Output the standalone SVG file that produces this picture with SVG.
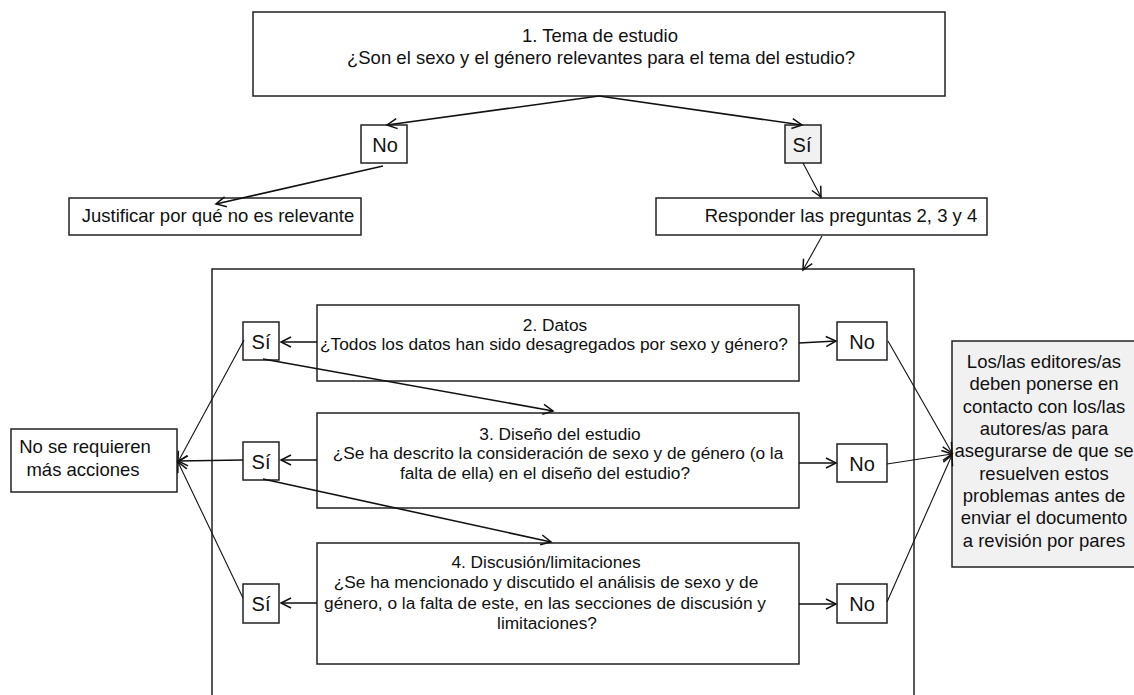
<svg xmlns="http://www.w3.org/2000/svg" width="1134" height="695" viewBox="0 0 1134 695">
<defs>
<marker id="ah" markerUnits="userSpaceOnUse" markerWidth="14" markerHeight="14" refX="11" refY="6" orient="auto" viewBox="0 0 14 12">
<path d="M1,1 L11,6 L1,11" fill="none" stroke="#111" stroke-width="1.5"/>
</marker>
</defs>
<style>
.b{fill:#fff;stroke:#222;stroke-width:1.5}
.g{fill:#f1f1f1;stroke:#222;stroke-width:1.5}
.t{font-family:"Liberation Sans",Arial,sans-serif;font-size:18.5px;fill:#111;text-anchor:middle}
.s{font-family:"Liberation Sans",Arial,sans-serif;font-size:17.3px;fill:#111;text-anchor:middle}
.l{font-family:"Liberation Sans",Arial,sans-serif;font-size:20px;fill:#111;text-anchor:middle}
.c{fill:none;stroke:#111;stroke-width:1.6;marker-end:url(#ah)}
.n{fill:none;stroke:#111;stroke-width:1.1;marker-end:url(#ah)}
</style>
<rect width="1134" height="695" fill="#fff"/>
<g id="container"><rect class="b" x="212" y="269" width="702" height="500" fill="none"/></g>
<g id="n1"><rect class="b" x="253" y="12" width="692" height="84"/>
<text class="t" x="600" y="42" font-size="18">1. Tema de estudio</text>
<text class="t" x="601" y="64">¿Son el sexo y el género relevantes para el tema del estudio?</text></g>
<g id="no1"><rect class="b" x="361" y="125" width="46" height="38"/><text class="l" x="385" y="152">No</text></g>
<g id="si1"><rect class="g" x="785" y="125" width="36" height="38"/><text class="l" x="802" y="152">Sí</text></g>
<g id="just"><rect class="b" x="69" y="198" width="292" height="37"/><text class="t" x="218" y="222">Justificar por qué no es relevante</text></g>
<g id="resp"><rect class="b" x="656" y="198" width="331" height="37"/><text class="t" x="841" y="222">Responder las preguntas 2, 3 y 4</text></g>
<g id="n2"><rect class="b" x="317" y="305" width="482" height="76"/>
<text class="s" x="555" y="331">2. Datos</text>
<text class="s" x="554" y="350">¿Todos los datos han sido desagregados por sexo y género?</text></g>
<g id="n3"><rect class="b" x="317" y="413" width="482" height="95"/>
<text class="s" x="560" y="440">3. Diseño del estudio</text>
<text class="s" x="558" y="459">¿Se ha descrito la consideración de sexo y de género (o la</text>
<text class="s" x="545" y="479">falta de ella) en el diseño del estudio?</text></g>
<g id="n4"><rect class="b" x="317" y="543" width="482" height="121"/>
<text class="s" x="546" y="568">4. Discusión/limitaciones</text>
<text class="s" x="546" y="588">¿Se ha mencionado y discutido el análisis de sexo y de</text>
<text class="s" x="545" y="609">género, o la falta de este, en las secciones de discusión y</text>
<text class="s" x="547" y="629">limitaciones?</text></g>
<g id="si2"><rect class="b" x="243" y="322" width="36" height="38"/><text class="l" x="261" y="349">Sí</text></g>
<g id="si3"><rect class="b" x="243" y="442" width="36" height="38"/><text class="l" x="261" y="469">Sí</text></g>
<g id="si4"><rect class="b" x="243" y="584" width="36" height="39"/><text class="l" x="261" y="611">Sí</text></g>
<g id="no2"><rect class="b" x="837" y="322" width="50" height="38"/><text class="l" x="862" y="349">No</text></g>
<g id="no3"><rect class="b" x="837" y="444" width="50" height="38"/><text class="l" x="862" y="471">No</text></g>
<g id="no4"><rect class="b" x="837" y="584" width="50" height="39"/><text class="l" x="862" y="611">No</text></g>
<g id="nomas"><rect class="b" x="11" y="429" width="166" height="63"/>
<text class="t" x="85" y="453">No se requieren</text>
<text class="t" x="83" y="476">más acciones</text></g>
<g id="editores"><rect class="g" x="952" y="341" width="190" height="226"/>
<text class="t" x="1044" y="368">Los/las editores/as</text>
<text class="t" x="1044" y="390">deben ponerse en</text>
<text class="t" x="1044" y="413">contacto con los/las</text>
<text class="t" x="1044" y="435">autores/as para</text>
<text class="t" x="1044" y="457">asegurarse de que se</text>
<text class="t" x="1044" y="480">resuelven estos</text>
<text class="t" x="1044" y="502">problemas antes de</text>
<text class="t" x="1044" y="524">enviar el documento</text>
<text class="t" x="1044" y="547">a revisión por pares</text></g>
<g id="connectors">
<line class="c" x1="599" y1="96" x2="387" y2="125"/>
<line class="c" x1="599" y1="96" x2="802" y2="125"/>
<line class="c" x1="383" y1="166" x2="216" y2="204"/>
<line class="n" x1="803" y1="163" x2="821" y2="197"/>
<line class="n" x1="822" y1="236" x2="803" y2="270"/>
<line class="c" x1="317" y1="342" x2="281" y2="342"/>
<line class="c" x1="799" y1="343" x2="836" y2="341"/>
<line class="c" x1="317" y1="460" x2="281" y2="460"/>
<line class="c" x1="799" y1="463" x2="836" y2="463"/>
<line class="c" x1="317" y1="603" x2="281" y2="603"/>
<line class="c" x1="799" y1="604" x2="836" y2="604"/>
<line class="c" x1="263" y1="359" x2="553" y2="411"/>
<line class="c" x1="263" y1="479" x2="551" y2="542"/>
<line class="n" x1="244" y1="340" x2="178" y2="462"/>
<line class="c" x1="243" y1="460" x2="178" y2="461"/>
<line class="n" x1="243" y1="598" x2="178" y2="462"/>
<line class="n" x1="888" y1="341" x2="952" y2="453"/>
<line class="n" x1="887" y1="464" x2="952" y2="454"/>
<line class="n" x1="887" y1="602" x2="952" y2="455"/>
</g>
</svg>
